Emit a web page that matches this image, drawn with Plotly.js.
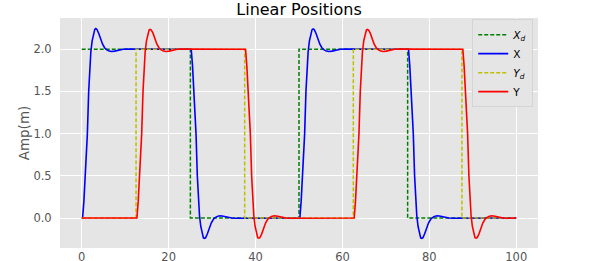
<!DOCTYPE html>
<html>
<head>
<meta charset="utf-8">
<script src="https://cdn.plot.ly/plotly-3.0.1.min.js"></script>
<style>html,body{margin:0;padding:0;background:#fff;}#chart{width:598px;height:261px;}</style>
</head>
<body>
<div id="chart"></div>
<script>
// Desired X position (step): times and values
const xdTime = [0, 25, 50, 75, 100];
const xdValue = [2, 0, 2, 0, 0];
// Desired Y position (step)
const ydTime = [0, 12.5, 37.5, 62.5, 87.5, 100];
const ydValue = [0, 2, 0, 2, 0, 0];

const xTime = [
  0, 0.2, 0.5, 0.85, 1.3, 1.6, 1.85, 2.1, 2.4, 2.7, 3.0, 3.25, 3.5, 3.9, 4.3, 4.8, 5.3, 5.7, 6.3, 6.9, 7.6, 8.5, 9.5, 10.5, 12.0, 25.0,
  25.2, 25.5, 25.85, 26.3, 26.6, 26.85, 27.1, 27.4, 27.7, 28.0, 28.25, 28.5, 28.9, 29.3, 29.8, 30.3, 30.7, 31.3, 31.9, 32.6, 33.5, 34.5, 35.5, 37.0, 50.0,
  50.2, 50.5, 50.85, 51.3, 51.6, 51.85, 52.1, 52.4, 52.7, 53.0, 53.25, 53.5, 53.9, 54.3, 54.8, 55.3, 55.7, 56.3, 56.9, 57.6, 58.5, 59.5, 60.5, 62.0, 75.0,
  75.2, 75.5, 75.85, 76.3, 76.6, 76.85, 77.1, 77.4, 77.7, 78.0, 78.25, 78.5, 78.9, 79.3, 79.8, 80.3, 80.7, 81.3, 81.9, 82.6, 83.5, 84.5, 85.5, 87.0, 100.0
];
const xValue = [
  0, 0, 0.2, 0.5, 1.0, 1.5, 1.78, 1.97, 2.1, 2.19, 2.235, 2.245, 2.235, 2.19, 2.13, 2.06, 2.015, 1.995, 1.978, 1.973, 1.978, 1.99, 1.999, 2.003, 2.002, 2.0,
  2.0, 1.8, 1.5, 1.0, 0.5, 0.22, 0.03, -0.1, -0.19, -0.235, -0.24, -0.235, -0.19, -0.13, -0.06, -0.015, 0.005, 0.022, 0.027, 0.022, 0.01, 0.001, -0.003, -0.002, 0.0,
  0, 0.2, 0.5, 1.0, 1.5, 1.78, 1.97, 2.1, 2.19, 2.232, 2.24, 2.232, 2.19, 2.13, 2.06, 2.015, 1.995, 1.978, 1.973, 1.978, 1.99, 1.999, 2.003, 2.002, 2.0,
  2.0, 1.8, 1.5, 1.0, 0.5, 0.22, 0.03, -0.1, -0.19, -0.235, -0.24, -0.235, -0.19, -0.13, -0.06, -0.015, 0.005, 0.022, 0.027, 0.022, 0.01, 0.001, -0.003, -0.002, 0.0
];

const yTime = [
  0, 12.5,
  12.7, 13.0, 13.35, 13.8, 14.1, 14.35, 14.6, 14.9, 15.2, 15.5, 15.75, 16.0, 16.4, 16.8, 17.3, 17.8, 18.2, 18.8, 19.4, 20.1, 21.0, 22.0, 23.0, 24.5, 37.5,
  37.7, 38.0, 38.35, 38.8, 39.1, 39.35, 39.6, 39.9, 40.2, 40.5, 40.75, 41.0, 41.4, 41.8, 42.3, 42.8, 43.2, 43.8, 44.4, 45.1, 46.0, 47.0, 48.0, 49.5, 62.5,
  62.7, 63.0, 63.35, 63.8, 64.1, 64.35, 64.6, 64.9, 65.2, 65.5, 65.75, 66.0, 66.4, 66.8, 67.3, 67.8, 68.2, 68.8, 69.4, 70.1, 71.0, 72.0, 73.0, 74.5, 87.5,
  87.7, 88.0, 88.35, 88.8, 89.1, 89.35, 89.6, 89.9, 90.2, 90.5, 90.75, 91.0, 91.4, 91.8, 92.3, 92.8, 93.2, 93.8, 94.4, 95.1, 96.0, 97.0, 98.0, 99.5, 100.0
];
const yValue = [
  0, 0,
  0, 0.2, 0.5, 1.0, 1.5, 1.78, 1.97, 2.1, 2.19, 2.228, 2.235, 2.228, 2.19, 2.13, 2.06, 2.015, 1.995, 1.978, 1.973, 1.978, 1.99, 1.999, 2.003, 2.002, 2.0,
  2.0, 1.8, 1.5, 1.0, 0.5, 0.22, 0.03, -0.1, -0.19, -0.232, -0.238, -0.232, -0.19, -0.13, -0.06, -0.015, 0.005, 0.022, 0.027, 0.022, 0.01, 0.001, -0.003, -0.002, 0.0,
  0, 0.2, 0.5, 1.0, 1.5, 1.78, 1.97, 2.1, 2.19, 2.228, 2.235, 2.228, 2.19, 2.13, 2.06, 2.015, 1.995, 1.978, 1.973, 1.978, 1.99, 1.999, 2.003, 2.002, 2.0,
  2.0, 1.8, 1.5, 1.0, 0.5, 0.22, 0.03, -0.1, -0.19, -0.232, -0.238, -0.232, -0.19, -0.13, -0.06, -0.015, 0.005, 0.022, 0.027, 0.022, 0.01, 0.001, -0.003, -0.002, 0.0
];

const xTicks = [0, 20, 40, 60, 80, 100];
const yTicks = [0.0, 0.5, 1.0, 1.5, 2.0];
const yTickText = ['0.0', '0.5', '1.0', '1.5', '2.0'];

const traces = [
  {x: xdTime, y: xdValue, name: '<i>X<sub>d</sub></i>', mode: 'lines',
   line: {color: '#008000', width: 1.5, dash: '4px,2px', shape: 'hv'}},
  {x: xTime, y: xValue, name: 'X', mode: 'lines',
   line: {color: '#0000FF', width: 1.6}},
  {x: ydTime, y: ydValue, name: '<i>Y<sub>d</sub></i>', mode: 'lines',
   line: {color: '#BFBF00', width: 1.5, dash: '4px,2px', shape: 'hv'}},
  {x: yTime, y: yValue, name: 'Y', mode: 'lines',
   line: {color: '#FF0000', width: 1.6}}
];

const layout = {
  width: 598, height: 261,
  margin: {l: 60, r: 60, t: 18, b: 13},
  paper_bgcolor: '#FFFFFF',
  plot_bgcolor: '#E5E5E5',
  font: {family: 'DejaVu Sans, sans-serif', color: '#555555', size: 11.5},
  title: {text: 'Linear Positions', font: {size: 16, color: '#000000', family: 'DejaVu Sans, sans-serif'},
          x: 0.5, xanchor: 'center', y: 0.965, yanchor: 'middle', yref: 'container'},
  xaxis: {range: [-5, 105], tickvals: xTicks, ticktext: xTicks.map(String),
          showgrid: true, gridcolor: '#FFFFFF', gridwidth: 1, zeroline: false,
          showline: false, ticks: '', ticklen: 0,
          tickfont: {size: 11.5, color: '#555555'}},
  yaxis: {range: [-0.355, 2.37], tickvals: yTicks, ticktext: yTickText,
          showgrid: true, gridcolor: '#FFFFFF', gridwidth: 1, zeroline: false,
          showline: false, ticks: 'outside', ticklen: 5, tickcolor: 'rgba(0,0,0,0)',
          tickfont: {size: 11.5, color: '#555555'},
          title: {text: 'Amp(m)', font: {size: 13.5, color: '#555555'}, standoff: 0}},
  legend: {x: 0.99, y: 0.995, xanchor: 'right', yanchor: 'top',
           bgcolor: '#E5E5E5', bordercolor: '#D4D4D4', borderwidth: 1,
           font: {size: 10.5, color: '#000000'}, tracegroupgap: 0, itemwidth: 30},
  showlegend: true
};

Plotly.newPlot('chart', traces, layout, {staticPlot: true, displayModeBar: false});
</script>
</body>
</html>
